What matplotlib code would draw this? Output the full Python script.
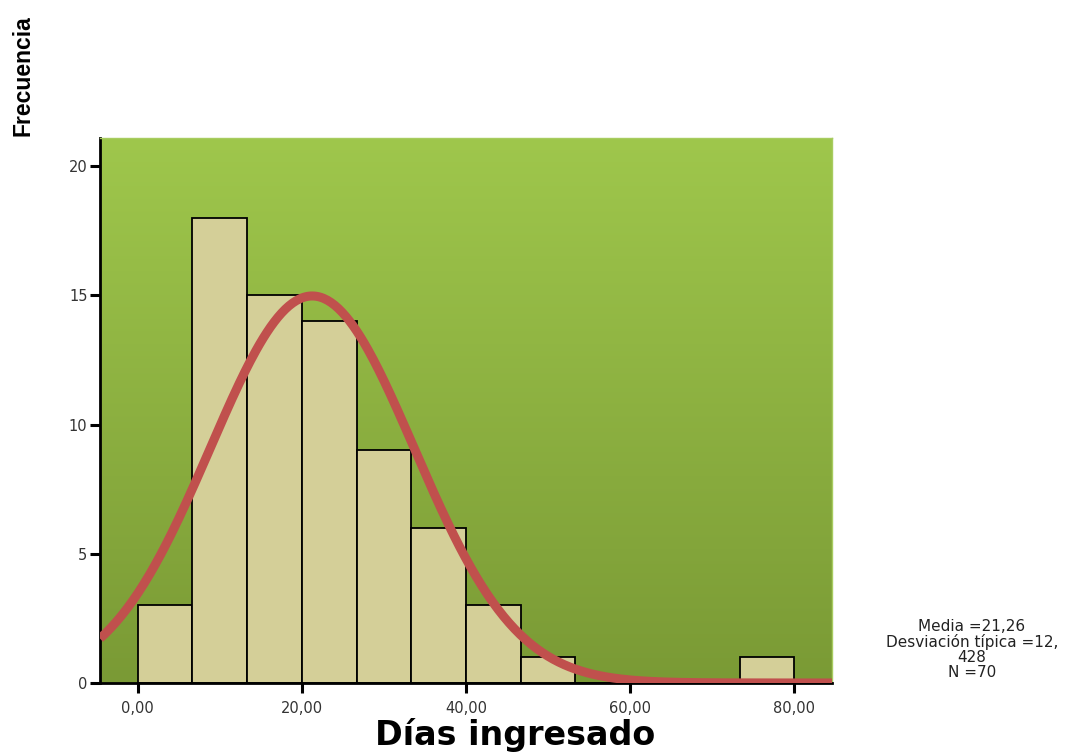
import numpy as np
import matplotlib.pyplot as plt
from matplotlib.colors import LinearSegmentedColormap

# datos del histograma (Días ingresado)
bin_edges = [0, 6.667, 13.333, 20, 26.667, 33.333, 40, 46.667, 53.333, 60, 66.667, 73.333, 80]
frecuencias = [3, 18, 15, 14, 9, 6, 3, 1, 0, 0, 0, 1]
media = 21.26
desv = 12.428
n_total = 70
x_ticks = [0, 20, 40, 60, 80]
x_tick_labels = ["0,00", "20,00", "40,00", "60,00", "80,00"]
y_ticks = [0, 5, 10, 15, 20]

plt.rcParams['font.family'] = ['DejaVu Sans']

fig = plt.figure(figsize=(10.75, 7.56), dpi=100)
ax = fig.add_axes([0.093, 0.0966, 0.681, 0.721])

xmin, xmax = -4.6, 84.6
ymin, ymax = 0, 21.1

# fondo degradado verde
cmap = LinearSegmentedColormap.from_list("verde", ["#7a9a35", "#9fc74c"])
grad = np.linspace(0, 1, 256).reshape(-1, 1)
ax.imshow(grad, cmap=cmap, origin="lower", aspect="auto",
          extent=[0, 1, 0, 1], transform=ax.transAxes, zorder=0)

# barras
lefts = np.array(bin_edges[:-1])
widths = np.diff(bin_edges)
ax.bar(lefts, frecuencias, width=widths, align="edge", color="#d4cf98",
       edgecolor="black", linewidth=1.3, zorder=2)

# curva normal
xs = np.linspace(xmin, xmax, 400)
bw = widths[0]
ys = n_total * bw / (desv * np.sqrt(2 * np.pi)) * np.exp(-0.5 * ((xs - media) / desv) ** 2)
ax.plot(xs, ys, color="#c0504d", linewidth=6.5, solid_capstyle="butt", zorder=3)

ax.set_xlim(xmin, xmax)
ax.set_ylim(ymin, ymax)

ax.set_xticks(x_ticks)
ax.set_xticklabels(x_tick_labels)
ax.set_yticks(y_ticks)
ax.tick_params(axis="both", direction="out", length=7, width=2.2, labelsize=10.5,
               colors="black", labelcolor="#333333")
ax.tick_params(axis="x", pad=6)
ax.tick_params(axis="y", pad=2)

for s in ["top", "right"]:
    ax.spines[s].set_color("#a8cc60")
    ax.spines[s].set_linewidth(1)
ax.spines["left"].set_linewidth(2)
ax.spines["bottom"].set_linewidth(2)

# títulos de ejes
fig.text(0.479, 0.014, "Días ingresado", fontsize=24, fontweight="bold",
         ha="center", va="baseline")
fig.text(0.0214, 0.9, "Frecuencia", rotation=90, fontsize=16.5, fontweight="bold",
         family="Liberation Sans", ha="center", va="center")

fig.text(0.904, 0.1415, "Media =21,26\nDesviación típica =12,\n428\nN =70",
         ha="center", va="center", fontsize=11, linespacing=1.0, color="#222222")

fig.savefig("out.png", dpi=100)
